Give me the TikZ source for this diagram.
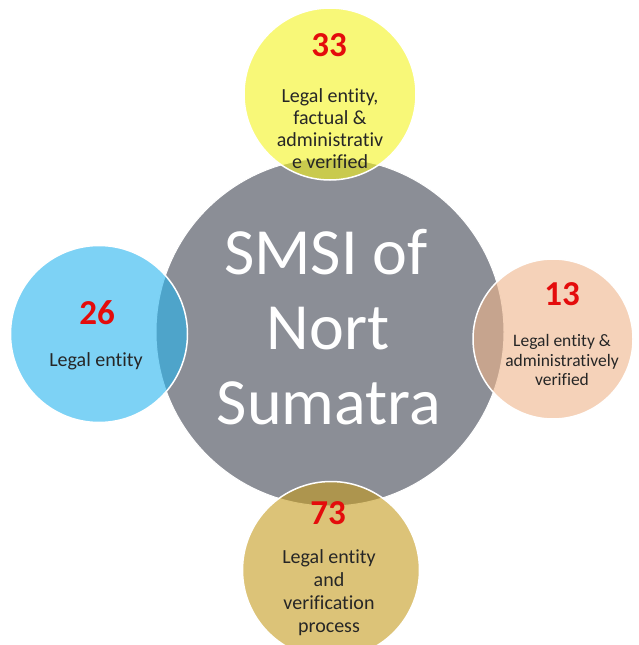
\documentclass[tikz,border=0pt]{standalone}
\usepackage{fontspec}
\setmainfont{Carlito}[Ligatures=NoCommon]
\definecolor{hubgray}{RGB}{139,142,150}
\definecolor{cyel}{RGB}{243,243,30}
\definecolor{cblue}{RGB}{38,180,238}
\definecolor{cpeach}{RGB}{238,180,138}
\definecolor{ctan}{RGB}{197,155,30}
\definecolor{numred}{RGB}{228,12,12}
\definecolor{txtdark}{RGB}{38,38,38}
\tikzset{
  hub/.style={circle, inner sep=0pt, minimum size=348pt, fill=hubgray, draw=white, line width=1pt},
  petal/.style={circle, inner sep=0pt, fill=#1, fill opacity=0.6, draw=white, draw opacity=1, line width=1.5pt},
  num/.style={anchor=base, inner sep=0pt, text=numred, font=\fontsize{35}{40}\selectfont\bfseries},
  lbl/.style={anchor=base, inner sep=0pt, text=txtdark, font=\fontsize{20}{22}\selectfont},
  lbls/.style={anchor=base, inner sep=0pt, text=txtdark, font=\fontsize{17.5}{19}\selectfont},
  hubtxt/.style={anchor=base, inner sep=0pt, text=white, font=\fontsize{66}{75}\selectfont}
}
\begin{document}
\begin{tikzpicture}[x=1pt,y=-1pt]
\useasboundingbox (0,0) rectangle (638,645);
\node[hub] (hub) at (330,332) {};
\node[petal=cyel, minimum size=172pt] (ctop) at (330,94) {};
\node[petal=cblue, minimum size=177pt] (cleft) at (99,334) {};
\node[petal=cpeach, minimum size=160pt] (cright) at (553,339) {};
\node[petal=ctan, minimum size=177pt] (cbot) at (331,570) {};
% hub text
\node[hubtxt] (h1) at (326,274) {SMSI of};
\node[hubtxt] (h2) at (328,349) {Nort};
\node[hubtxt] (h3) at (329,424) {Sumatra};
% top
\node[num] (n33) at (329,56) {33};
\node[lbl] (t1) at (330,102) {Legal entity,};
\node[lbl] (t2) at (330,124) {factual \&};
\node[lbl] (t3) at (330,146) {administrativ};
\node[lbl] (t4) at (330,168) {e verified};
% left
\node[num] (n26) at (97,324) {26};
\node[lbl] (l1) at (96,366) {Legal entity};
% right
\node[num] (n13) at (562,305) {13};
\node[lbls] (r1) at (562,346) {Legal entity \&};
\node[lbls] (r2) at (562,366) {administratively};
\node[lbls] (r3) at (562,385) {verified};
% bottom
\node[num] (n73) at (328,524) {73};
\node[lbl] (b1) at (329,563) {Legal entity};
\node[lbl] (b2) at (329,586) {and};
\node[lbl] (b3) at (329,609) {verification};
\node[lbl] (b4) at (329,632) {process};
\end{tikzpicture}
\end{document}
